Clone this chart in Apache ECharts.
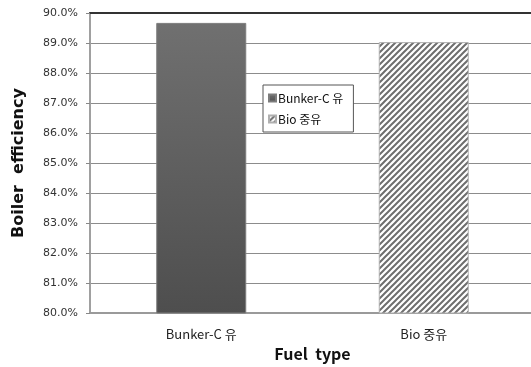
<!DOCTYPE html>
<html>
<head>
<meta charset="utf-8">
<script src="https://cdn.jsdelivr.net/npm/echarts@6/dist/echarts.min.js"></script>
<style>
  html, body { margin: 0; padding: 0; background: #fff; }
  #chart { width: 531px; height: 367px; }
</style>
</head>
<body>
<div id="chart"></div>
<script>
// Fuel types and measured boiler efficiency (%)
const categories = ['Bunker-C 유', 'Bio 중유'];
const seriesNames = ['Bunker-C 유', 'Bio 중유'];
const efficiency = [89.67, 89.03];
const yMin = 80, yMax = 90, yStep = 1;

// Diagonal hatch fill for the bio-oil bar
function hatchPattern() {
  const c = document.createElement('canvas');
  const s = 6;
  c.width = s; c.height = s;
  const g = c.getContext('2d');
  g.fillStyle = '#ffffff';
  g.fillRect(0, 0, s, s);
  g.strokeStyle = '#6e6e6e';
  g.lineWidth = 2;
  g.beginPath();
  g.moveTo(-1, s + 1); g.lineTo(s + 1, -1);
  g.moveTo(-1 - s, s + 1); g.lineTo(1, -1);
  g.moveTo(s - 1, s + 1); g.lineTo(s + s + 1, -1);
  g.stroke();
  return { image: c, repeat: 'repeat' };
}

const solidFill = {
  type: 'linear', x: 0, y: 0, x2: 0, y2: 1,
  colorStops: [
    { offset: 0, color: '#707070' },
    { offset: 1, color: '#4e4e4e' }
  ]
};

const chart = echarts.init(document.getElementById('chart'), null, { renderer: 'canvas' });

chart.setOption({
  animation: false,
  backgroundColor: '#ffffff',
  grid: { left: 90, right: -4, top: 13, bottom: 54, containLabel: false, outerBoundsMode: 'none' },
  legend: {
    orient: 'vertical',
    left: 263, top: 85,
    padding: [7, 10, 7, 5],
    itemGap: 9,
    itemWidth: 7, itemHeight: 7,
    borderColor: '#555', borderWidth: 1,
    backgroundColor: '#fff',
    icon: 'rect',
    textStyle: { fontFamily: 'Noto Sans CJK KR', fontSize: 12, color: '#111', padding: [0, 0, 0, -3] },
    data: seriesNames
  },
  xAxis: [{
    type: 'category',
    data: categories,
    name: 'Fuel  type',
    nameLocation: 'middle',
    nameGap: 33,
    nameTextStyle: { fontFamily: 'Noto Sans CJK KR', fontWeight: 'bold', fontSize: 16, color: '#111' },
    axisLine: { lineStyle: { color: '#9a9a9a', width: 2 } },
    axisTick: { show: false },
    axisLabel: { fontFamily: 'Noto Sans CJK KR', fontSize: 13, color: '#222', margin: 15 }
  }, {
    type: 'category',
    data: categories,
    position: 'top',
    axisLine: { lineStyle: { color: '#333', width: 2 } },
    axisTick: { show: false },
    axisLabel: { show: false }
  }],
  yAxis: {
    type: 'value',
    min: yMin, max: yMax, interval: yStep,
    name: 'Boiler  efficiency',
    nameLocation: 'middle',
    nameGap: 63,
    nameTextStyle: { fontFamily: 'DejaVu Sans', fontWeight: 'bold', fontSize: 16, color: '#111' },
    axisLine: { show: true, lineStyle: { color: '#a0a0a0', width: 2 } },
    axisTick: { show: true, length: 4, lineStyle: { color: '#888' } },
    axisLabel: {
      fontFamily: 'DejaVu Sans', fontSize: 11, color: '#333', margin: 12,
      formatter: v => v.toFixed(1) + '%'
    },
    splitLine: { show: true, lineStyle: { color: '#8c8c8c', width: 1 } }
  },
  series: [{
    name: seriesNames[0],
    type: 'bar',
    barWidth: 90,
    barGap: '-100%',
    data: [efficiency[0], null],
    itemStyle: { color: solidFill, borderColor: '#7c7c7c', borderWidth: 1 }
  }, {
    name: seriesNames[1],
    type: 'bar',
    barWidth: 90,
    barGap: '-100%',
    data: [null, efficiency[1]],
    itemStyle: { color: hatchPattern(), borderColor: '#b0b0b0', borderWidth: 1 }
  }]
});
</script>
</body>
</html>
